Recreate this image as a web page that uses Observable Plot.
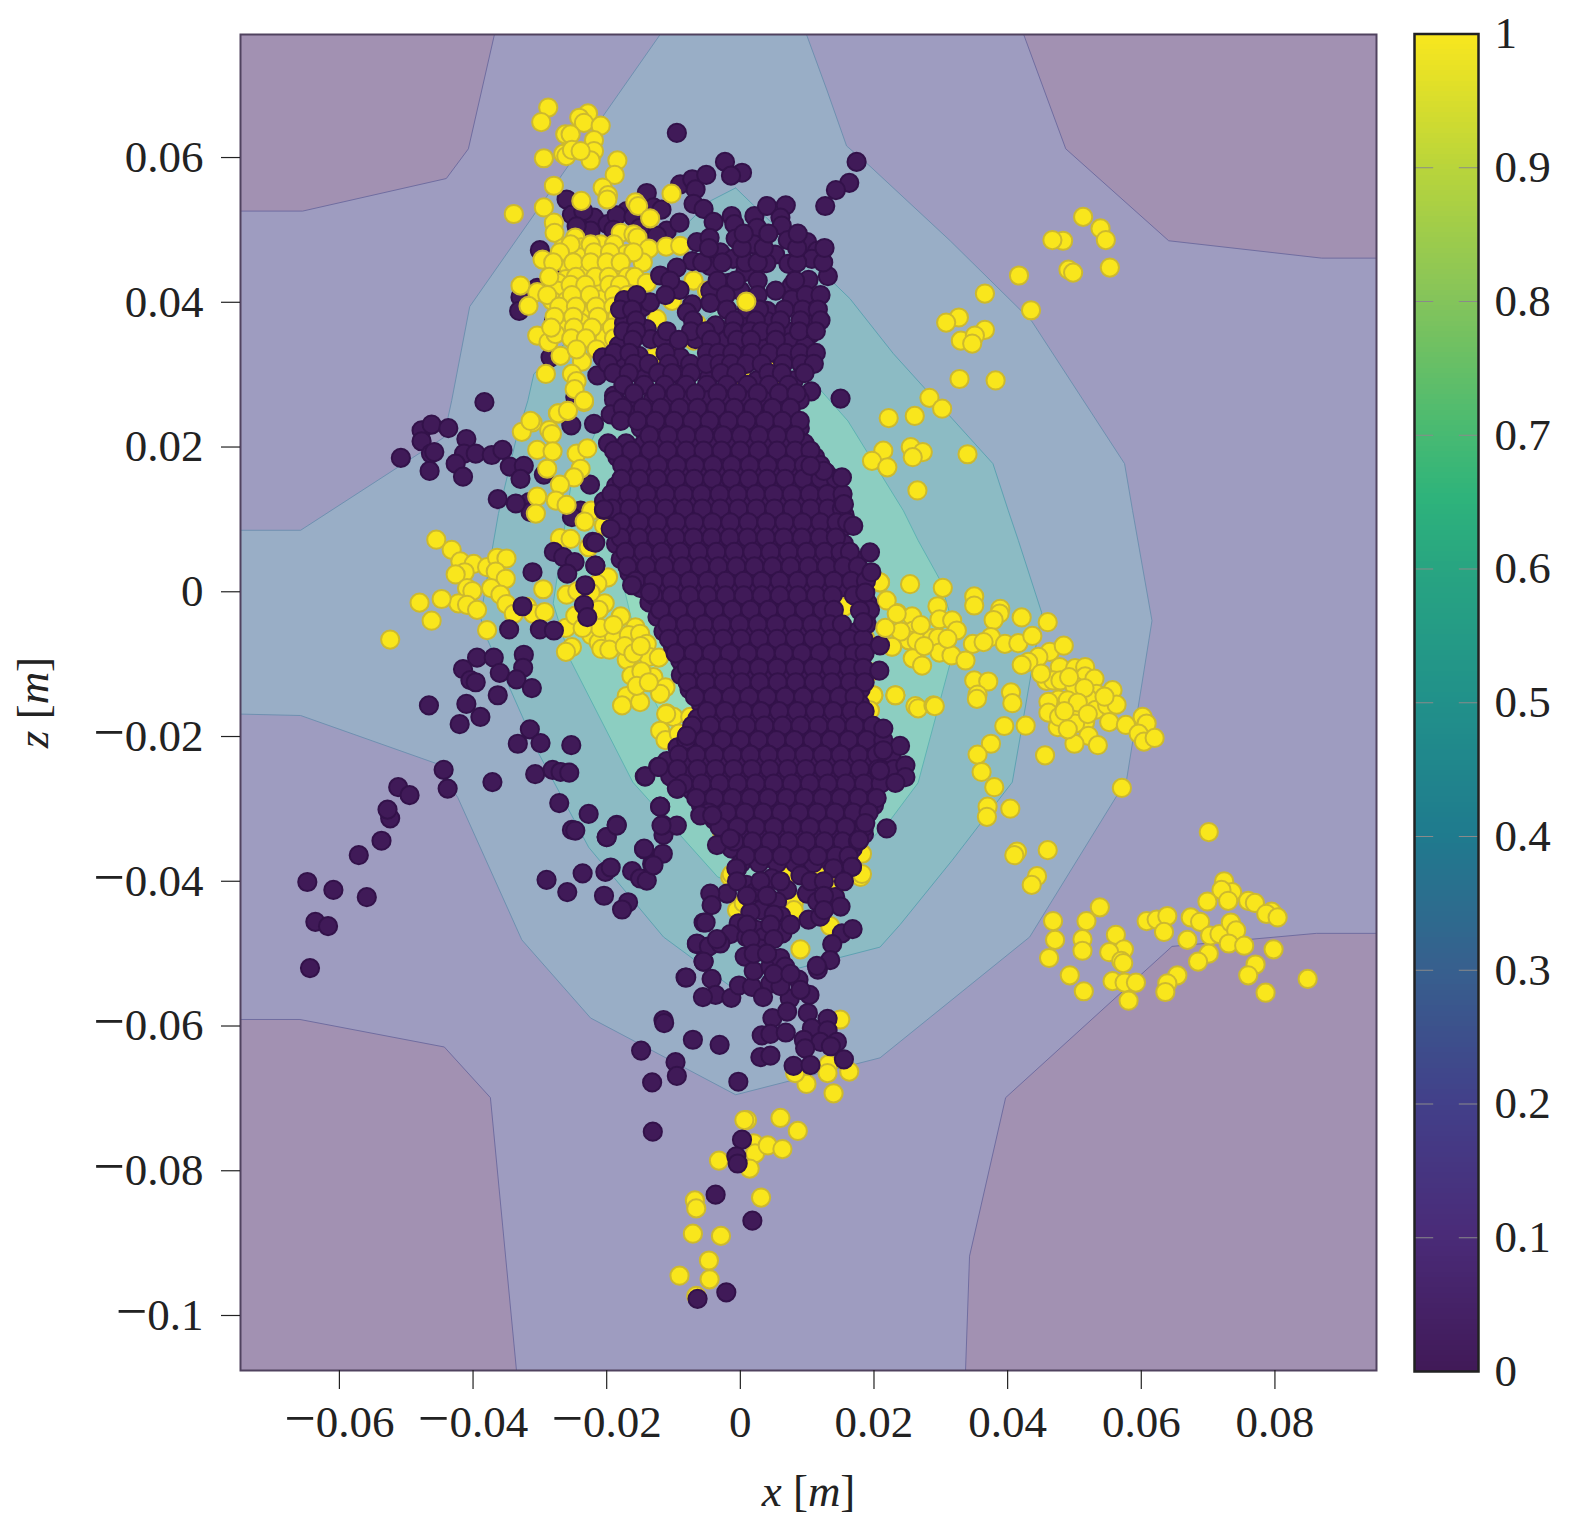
<!DOCTYPE html>
<html><head><meta charset="utf-8">
<script src="https://cdn.jsdelivr.net/npm/d3@7"></script>
<script src="https://cdn.jsdelivr.net/npm/@observablehq/plot@0.6"></script>
<style>html,body{margin:0;padding:0;background:#fff}#c{position:relative;width:1574px;height:1538px;display:flex}svg{overflow:visible;display:block}</style>
</head><body><div id="c"></div>
<script>
// all positions in millimetres, [x, z]
const xTicks=[-0.06,-0.04,-0.02,0,0.02,0.04,0.06,0.08];
const zTicks=[-0.1,-0.08,-0.06,-0.04,-0.02,0,0.02,0.04,0.06];
const cbTicks=[0,0.1,0.2,0.3,0.4,0.5,0.6,0.7,0.8,0.9,1];
const cbStops=[0,0.1,0.2,0.3,0.4,0.5,0.6,0.65,0.7,0.8,0.9,1];
const cbColours=["#411a58","#4a2b78","#42408a","#37608e","#1f7b8e","#21918a","#28a581","#2eb37b","#48ba72","#85c45a","#bad53a","#fae71d"];
const level2=[[-74.8,52.6],[-65.5,52.6],[-44,57.1],[-40.7,61.2],[-36.8,77],[42.4,77],[48.7,61.2],[64.1,48.5],[87,46.1],[95.2,46.1],[95.2,-47.2],[86.2,-47.2],[64.6,-49],[39.7,-69.9],[34.3,-91.8],[33.7,-107.6],[-33.5,-107.6],[-37.4,-69.9],[-44.3,-62.9],[-65.9,-59.1],[-74.8,-59.1],[-74.8,52.6]];
const level3=[[-74.8,8.5],[-65.8,8.5],[-44.4,21.3],[-43.2,26.4],[-40.5,39.4],[-12,77],[9.9,77],[13,69.2],[15.9,61.6],[19.4,58.8],[31.4,48.5],[43.6,37.4],[57.5,17.7],[58.7,11.2],[61.6,-4],[57.8,-26],[43.3,-47.7],[20.9,-64.4],[-0.7,-69.5],[-22.4,-58.9],[-32.7,-48.1],[-42.3,-28.4],[-45.6,-23.7],[-65.8,-17.1],[-74.8,-16.9],[-74.8,8.5]];
const level4=[[-0.7,55.8],[16.4,40.5],[22.9,32.9],[37.8,17.7],[40.1,11.2],[41.6,7.1],[45.1,-2.9],[40.7,-26.3],[31.7,-37.1],[23.9,-46],[20.9,-49.1],[7.5,-52.3],[-1.8,-54.3],[-11.5,-47.7],[-22.7,-35.3],[-30.2,-22.3],[-34.8,-12.7],[-37.8,-6.7],[-38.9,-3.5],[-36.2,10.8],[-33.6,20.9],[-31.8,26.4],[-30.9,30.1],[-4.5,54],[-0.7,55.8]];
const level5=[[-0.7,41.6],[9,31],[16.1,23.6],[24.4,11.2],[26.6,7.1],[29.9,1.6],[32.4,-6.4],[26.6,-26.4],[22.4,-31.6],[16.4,-37.1],[1.5,-41.2],[-3.4,-39.4],[-16.1,-26.3],[-25.4,-9.5],[-28,-1.6],[-25.4,14.4],[-20.9,23.6],[-0.7,41.6]];
const level6=[[0,32],[10,19.8],[14.6,10.8],[16.9,6.1],[19.4,0.2],[17.9,-13.6],[13.5,-26],[4.5,-32.9],[-6,-27.4],[-13.9,-13.2],[-17.9,2.5],[-14.9,15.4],[0,32]];

const darkBack=[[-26,54.2],[-25.2,52.1],[-21.9,51.7],[-14,55.1],[-13,53.1],[-17,52.6],[-19.9,50.8],[-30,47.2],[-27.7,45.3],[-32.9,40.7],[-33.1,38.8],[-27.9,37.4],[-28.4,32.4],[-24.7,26.9],[-30.4,42],[-22.4,49.9],[-9,56.3],[-7.2,57],[-6.7,55.6],[-29.4,16.2],[-31.6,12.4],[-31.4,11],[-23.9,11.2],[-25.2,10.3],[-25.3,23],[-21.9,23.2],[-22.5,14.8],[-11,49.9],[-9.1,51],[-7,53.6],[-5.5,52.9],[-23.5,52.6],[-18.5,52],[-16,51.8],[-11.8,52.8],[-15,50.3],[-12.5,49.2],[-24.5,50.5],[-19,50]];

const yellow=[[51.3,51.8],[53.9,50.2],[54.7,48.6],[48.3,48.5],[46.7,48.6],[49.1,44.5],[49.8,44.1],[55.3,44.8],[41.7,43.7],[36.6,41.2],[43.5,38.9],[32.7,37.9],[30.8,37.2],[36.6,36.2],[33,34.7],[35.1,35.4],[34.7,34.3],[32.8,29.4],[38.2,29.2],[28.3,26.8],[30.2,25.3],[26.1,24.3],[22.2,24],[25.5,20],[27.3,19.3],[25.8,18.6],[34,19],[21.4,19.5],[19.7,18.1],[22,17.2],[26.5,14],
[20.9,1.3],[25.4,1.05],[30.3,0.55],[29.5,-2],[35,-0.65],[35,-1.9],[38.9,-2.35],[38.8,-3],[37.9,-3.9],[42.1,-3.55],[46,-4.2],[23.5,-2.95],[25.7,-3.4],[29.8,-3.8],[31.7,-3.95],[32.4,-5.35],[25.9,-5.35],[25.2,-6.7],[26.4,-6.8],[28.7,-6.4],[29.6,-6.35],[22.7,-7.55],[29.8,-8.4],[31.6,-8.8],[33.7,-9.5],[25.8,-9.2],[27.2,-10.2],[34.8,-7.2],[37.5,-6.25],[36.4,-6.95],[39.6,-7.2],[41.6,-7.1],[43.7,-6.1],[46.3,-8.3],[48.4,-7.45],[44.6,-9],[43.1,-9.7],[42.1,-10.1],[47.8,-10.4],[50.1,-10.55],[51.6,-10.4],[51.6,-11.7],[53,-12],[45.8,-12.3],[46.8,-12.25],[47.9,-12.25],[35,-12.25],[37.1,-12.4],[35.5,-14.2],[35.4,-14.8],[40.5,-13.9],[40.7,-15.4],[23.2,-14.3],[19.9,-14.3],[26.2,-15.8],[26.6,-16.1],[28.9,-15.7],[29.1,-15.8],[55.7,-13.6],[53.3,-14.1],[52,-14.7],[47.6,-14.9],[46.1,-15.2],[46.1,-16.7],[49.8,-16.7],[53.2,-16.3],[54.9,-15.7],[56.3,-15.6],[51.6,-18],[50.1,-18.2],[47.5,-18.7],[47.7,-17.3],[55.2,-18],[57.7,-18.4],[60.2,-17.3],[60.8,-18.2],[59.6,-19.6],[60.4,-20.7],[62,-20.2],[52.1,-19.9],[50,-21],[53.5,-21.2],[39.5,-18.55],[42.7,-18.5],[37.5,-21],[35.5,-22.5],[36.1,-24.9],[38,-27],[45.6,-22.6],[57.1,-27.1],[37,-29.7],[36.9,-31.1],[40.4,-29.97],[41.4,-35.9],[41,-36.4],[46,-35.7],[44.4,-39.3],[43.6,-40.5],
[50,-13],[49,-15],[51.5,-13.3],[50.5,-15.3],[48.5,-16.5],[52,-16.9],[54.5,-14.5],[49,-19],[45,-11.3],[49.2,-11.8],[24,-5.5],[27.5,-7.5],[31,-6.5],[27,-4.6],
[70.1,-33.2],[72.4,-40],[73.6,-41.5],[72,-41.2],[69.9,-42.8],[73,-42.7],[76,-42.7],[77,-43],[79.5,-44.2],[78.7,-44.5],[80.4,-45],[53.8,-43.6],[51.8,-45.5],[46.8,-45.5],[47.1,-48.1],[46.2,-50.6],[51.2,-48],[51.2,-49.6],[56.2,-47.4],[57.4,-49.4],[55.2,-49.8],[57,-51],[57.3,-51.3],[49.3,-53],[51.4,-55.2],[55.7,-53.8],[57.5,-54],[59.2,-54],[58.1,-56.5],[60.8,-45.5],[62.3,-45.3],[63.9,-44.8],[63.4,-47],[66.9,-48.1],[67.4,-45],[68.8,-45.6],[70.3,-47.5],[71.7,-47.3],[73.4,-45.7],[74.2,-46.8],[73.1,-48.6],[75.4,-48.9],[70.1,-50],[68.5,-51.1],[79.8,-49.4],[77.1,-51.5],[76,-53],[78.6,-55.4],[84.9,-53.5],[65.4,-53],[63.9,-54.1],[63.6,-55.3],
[-52.4,-6.6],[-45.5,7.2],[-43.2,5.8],[-41.9,4.2],[-39.9,3.85],[-41.25,2.7],[-42.6,2.4],[-37.9,3.4],[-36.4,4.7],[-35,4.6],[-36.6,2.8],[-35.1,1.8],[-37.3,0.5],[-40.9,0.5],[-40.1,0.1],[-35.9,-0.4],[-35,-1.7],[-42.2,-1.6],[-40.9,-1.8],[-39.4,-2.5],[-44.7,-1],[-48,-1.5],[-46.2,-4],[-37.9,-5.3],[-33.9,-3.05],[-31.9,-2.1],[-31,-3.05],[-29.3,-2.8],[-29.5,0.35],[-26.1,-5],[-25.2,-7.65],[-26.1,-8.3],
[-27.3,24.65],[-25.9,25],[-23.4,26.2],[-31.1,23.4],[-32.7,22.1],[-28.6,22.35],[-28.2,21.8],[-30.4,19.6],[-28.1,19.4],[-28.9,17],[-24.5,19.1],[-22.9,19.8],[-23.9,17],[-24.9,15.8],[-27,14.8],[-30.4,13.15],[-27.6,12.6],[-26,12],[-30.6,10.8],[-22.3,11.2],[-23.3,9.7],[-20.4,9.15],[-27,7.4],[-25.4,7.3],[-22.7,6.15],[-19.8,2],[-21.4,1.1],[-26,-0.4],[-24.4,0.1],[-22.4,-0.1],[-20.3,-1.6],[-21.2,-2.5],[-24.7,-3.3],[-22.9,-3.5],[-17.9,-3.4],[-15.7,-4.9],[-22.3,-6],[-21.2,-7],[-20.8,-7.9],[-18.9,-6.3],[-16.7,-6],[-15,-5.8],[-14,-7.2],[-17,-9.4],[-13.7,-9],[-12.2,-9.1],[-16.3,-11.6],[-13,-11.8],[-11.2,-13.2],[-12,-14.1],[-17,-14.4],[-17.7,-15.7],[-15,-15.25],[-11,-16.8],[-10,-17.3],[-11.1,-16.9],[-12,-19.2],[-11.2,-20.5],[-7.5,-17.3],[-9.2,-19.6],[-8.5,-21],
[-21,-5],[-19.6,-8],[-17.3,-7.5],[-16,-8.5],[-14.9,-7.5],[-14.8,-11],[-15.5,-13],[-13.7,-12.5],[-19,-4.6],[-23.6,-5],
[15.7,-1.4],[15.5,-2.1],[18.4,-5.8],[18.7,-6.5],[20.9,1.3],[21.9,-1.2],[22.7,-7.6],[19.9,-14.3],[23.2,-14.3],[19.4,-11.1],[19.4,-16.4],
[-28.75,66.9],[-29.8,64.9],[-22.8,66.1],[-24.1,65.5],[-23.4,64.8],[-20.9,64.4],[-26.2,63.2],[-25.4,63.2],[-21.9,62.4],[-26.5,60.5],[-26.05,60.2],[-25.2,61.05],[-21.9,60.9],[-22.4,59.6],[-29.4,59.9],[-23.9,60.9],[-18.4,59.6],[-18.8,57.6],[-27.9,56.1],[-20.6,55.85],[-19.8,54.8],[-19.9,54.2],[-23.8,54],[-29.4,53.1],[-33.9,52.2],[-27.9,51],[-27.8,49.6],[-15.7,53.8],[-15.3,53.3],[-13.5,51.6],[-10.3,55],[-17.9,49.6],[-16,49.4],[-15.4,48.95],[-24.7,48.95],[-26.5,47.5],[-23.8,47.6],[-20.9,48],[-18.9,48],[-29.6,45.9],[-13.7,47.4],[-11.1,47.7],[-9,47.8],[-17.1,46.65],[-14.6,45.5],[-23.9,46.2],[-25.7,44.8],[-20.9,44.1],[-18.2,44.2],[-23.4,44],[-26.1,43.2],[-27.3,42.7],[-32.9,42.3],[-30.4,41.4],[-31.7,39.5],[-27.4,41.6],[-21.9,41.6],[-16.9,42.05],[-28.15,40.2],[-26,40.2],[-23.9,40.7],[-20.7,40.4],[-25.8,38.9],[-22.9,38.3],[-19.4,38.3],[-23.9,37.2],[-20.7,36.8],[-26.2,36.3],[-30.4,35.4],[-28.7,34.5],[-20.3,35.05],[-27.65,35.6],[-26.9,32.6],[-23.7,31.8],[-29.1,30.1],[-25.2,30.1],[-24.5,29.1],[-24.8,28],[-23.4,26.4],[-27.25,24.65],[-25.8,25],[-31.4,23.6],
[-22.4,48],[-25.4,48],[-27,46.9],[-21.9,46.9],[-19.5,46.9],[-16,46.9],[-28,45.5],[-25,45.5],[-22.4,45.5],[-20,45.5],[-17.9,45.5],[-28.6,43.5],[-24.6,43.5],[-21.7,43.5],[-19.7,43.5],[-16.9,43.5],[-15.8,43.5],[-25.4,42.4],[-23.2,42.4],[-19.6,42.4],[-18,42.4],[-28.9,41],[-25.2,41],[-22.5,41],[-18.9,41],[-16.9,41],[-27.1,39.4],[-24.6,39.4],[-21.6,39.4],[-19,39.4],[-17.5,39.4],[-27.8,38],[-25,38],[-21.3,38],[-18.4,38],[-28.3,36.5],[-24.9,36.5],[-22.2,36.5],[-19.2,36.5],[-25.3,35],[-23.1,35],[-18.9,35],[-21.5,33.5],[-24.5,33.5],
[-14,42.7],[-7,43],[-3,41.6],[-5,41.6],[-10.2,40.2],[-12.5,37.7],[-6.5,37],[-5,34.7],[-7,34.7],[-13,32.4],[-12,31],[-18.4,31],[-2.5,31.9],[4,31.6],[-0.2,29.4],[5.2,28.7],[1,26.4],[-11,34],[-8.5,28],[1,29],[6,30],
[9,-49.4],[11.7,-39.4],[18,-39.4],[14.2,-40.7],[13.45,-46.2],[14.95,-59.1],[13.2,-65.3],[13.05,-66.5],[16.3,-66.3],[9.9,-68],[13.95,-69.3],[8.2,-66.5],[1,-73],[0.6,-73],[6,-72.7],[8.6,-74.5],[2,-76.2],[2.2,-77.6],[4.1,-76.5],[6.3,-77],[1.4,-79.7],[-3.2,-78.6],[3.1,-83.7],[-6.8,-84.1],[-6.6,-85.2],[-7.1,-88.7],[-2.9,-89],[-4.7,-92.4],[-9.1,-94.5],[-4.6,-95],[-6.6,-97.3],
[18.2,-39],[18.2,-36.2],[16.9,-35.3],[7,-39],[-2.7,-33.4],[-1.5,-39.4],[11.5,-39.2],[-0.5,-44],[0.5,-43],[8,-43],[8,-44],[6.7,-39],[-1.3,-39]];

const darkLoose=[[-64.4,-52],[-63.6,-45.6],[-61.7,-46.2],[-64.8,-40.1],[-60.9,-41.2],[-55.9,-42.2],[-57.1,-36.4],[-53.7,-34.4],[-52.4,-31.3],[-52.8,-30.1],[-51.2,-27],[-49.5,-28.1],[-44.4,-24.6],[-43.8,-27.2],[-37.1,-26.3],[-46.6,-15.7],[-41,-15.5],[-38.9,-17.3],[-42,-18.3],[-36.3,-14.3],[-39.4,-9.1],[-36.9,-9.1],[-41.5,-10.7],[-40.4,-12.2],[-39.6,-12.5],[-36,-11.2],[-32.4,-8.7],[-32.5,-10.5],[-33.5,-12.1],[-31.2,-13.3],[-31.5,-19],[-33.3,-21],[-29.9,-20.9],[-25.3,-21.2],[-30.7,-25.2],[-28.1,-24.6],[-26.9,-24.9],[-25.6,-25],[-27.1,-29.2],[-22.7,-30.7],[-18.5,-32.2],[-20,-33.9],[-25.2,-32.9],[-24.7,-33],[-29,-39.8],[-25.9,-41.5],[-23.6,-38.9],[-20.2,-38.7],[-19.4,-38.1],[-20.4,-42],[-16.8,-42.9],[-17.7,-43.9],[-16.2,-38.6],[-15,-39.6],[-14,-39.9],[-13.2,-37.6],[-14.4,-35.6],[-11.6,-36.2],[-11.5,-33.6],[-11.6,-32.2],[-9.5,-32.3],[-12,-29.7],[-14.3,-25.5],[-12.3,-24.2],[-11,-23.4],[-9.4,-27.2],[-7.9,-19.8],[-6.7,-22.1],[-8,-22.9],[-6.5,-48.7],[-5.5,-51.1],[-8.2,-53.3],[-5.5,-45.7],
[-38.3,26.2],[-50.8,18.5],[-47.7,22.3],[-46.2,23.1],[-43.7,22.6],[-47.7,20.8],[-46.3,19.1],[-45.8,19.3],[-46.5,16.7],[-41,21.1],[-41.35,19.1],[-42.6,17.7],[-39.6,19.1],[-37.2,18.9],[-35.6,19.6],[-41.5,15.9],[-34.5,17.3],[-32.4,17.4],[-32.9,15.6],[-36.3,12.8],[-33.6,12.2],[-20.4,11.3],[-27.9,5.5],[-26.5,4.8],[-24.8,4.1],[-25.9,2.5],[-22.1,6.9],[-21.7,3.6],[-23.2,0.9],[-23.4,-1.8],[-22.9,-3.5],[-31.1,2.7],[-32.6,-2],[-34.6,-5.2],[-30,-5.2],[-27.9,-5.35]];

const darkTop=[[-9.5,63.4],[-2.3,59.4],[0.25,57.9],[-1.4,57.5],[17.4,59.4],[16.3,56.5],[14.3,55.5],[12.7,53.3],[-5.1,57.6],[-4,51.1],[-1.3,51.9],[-0.9,50.8],[2.1,51.9],[4,53.3],[6.8,53.4],[6,51.7],[2.5,50.3],[6.2,50.6],[-6.5,48.3],[-4.6,48.9],[-0.7,48.8],[2,48],[-3,46.9],[-1.1,46],[7.1,48.6],[10,48.3],[11.5,47.1],[5.2,46.6],[3.9,45.4],[7.2,45.3],[10.7,46],[0.75,44.2],[13.1,43.6],[10.2,43.1],[7.7,42.3],[5.3,41.6],[-7.2,45.7],[-9.5,44.8],[-4.5,45],[-12,43.7],[-1.7,42.7],[-9.1,41.7],[-4.5,41.6],[0,41.6],[-17.4,40.3],[-14.7,39.3],[-13.5,40],[-7.2,39.7],[-4.5,39.9],[7.7,40.4],[-8,38.6],[4,38.8],[10.5,37.9],[10.5,35.6],[1,37.9],[-17.4,37.1],[-14,36.3],[-3.7,36.8],[4,37.4],[7,36],[-13.4,34.9],[-11.7,34.9],[-6.7,34.9],[-2.2,34.7],[-18.2,34],[0.4,33.8],[3,33.8],[7.5,34.5],[9.7,34],[-20.6,32.4],[-17.7,32.2],[-15.2,32.6],[-9,32.4],[5.6,32.8],[10.6,32.4],[-21.4,29.9],[-14.7,29.6],[-9,29.9],[-4.7,29.6],[2.5,29.2],[8,29.2],[-18.9,27.1],[-12.5,27.3],[-6,26.9],[-1.5,27.8],[3.5,27.1],[10.6,27.7],[15,26.7],
[-10.5,43],[-3.4,43],[-0.7,43],[2.6,43],[8.2,43],[-5.7,45.5],[-2.7,45.5],[0.8,45.5],[2.6,45.5],[8.5,45.5],[12.4,45.5],[-4.7,47.5],[0.2,47.5],[3.5,47.5],[8.5,47.5],[12.6,47.5],[0.5,49.5],[4.2,49.5],[8.6,49.5],
[-15.5,41],[-11.2,41],[-2.2,41],[2.6,41],[9.8,41],[12,41],[-18,39],[-16.2,39],[-2,39],[1,39],[2.8,39],[6.6,39],[9.3,39],[11.6,39],[-15.6,37.5],[-7.1,37.5],[-0.9,37.5],[2.3,37.5],[6,37.5],[9,37.5],[12,37.5],[-17.5,36],[-15.6,36],[-11,36],[-7.4,36],[-5.2,36],[-1.1,36],[1.5,36],[3.1,36],[5.3,36],[8.8,36],[11.3,36],[-16.1,34.8],[-9.2,34.8],[-4.4,34.8],[-0.5,34.8],[1.6,34.8],[5.3,34.8],[-18.9,33],[-16.6,33],[-11.2,33],[-5,33],[-3.3,33],[-1.2,33],[1.7,33],[4.3,33],[6.8,33],[8.9,33],[11.3,33],[-19.8,31.5],[-15.9,31.5],[-13.7,31.5],[-10.7,31.5],[-7.5,31.5],[-5.1,31.5],[-3.1,31.5],[-1.4,31.5],[0.9,31.5],[3.2,31.5],[6.4,31.5],[9.1,31.5],[11,31.5],[-19,30.2],[-16.7,30.2],[-12.3,30.2],[-10.2,30.2],[-7.4,30.2],[-2.9,30.2],[-0.6,30.2],[4.2,30.2],[6.2,30.2],[9.6,30.2]];

const darkEdge=[[16.9,9.1],[19.4,5.45],[19.6,2.7],[15.2,15.8],[15.5,12.1],[12.5,16.7],[10.5,17.4],[18.7,-0.1],[17.9,-2.6],[18.4,-4.2],[20.9,-7.4],[20.8,-10.9],[21.4,-18.9],[23.9,-21.3],[21.4,-21.9],[20.9,-24.7],[24.7,-24],[24.7,-25.6],[23.2,-26.4],[18.7,-31.95],[17.8,-34.3],[21.9,-32.7],[16.7,-38],[-20.4,11.4],[-19.4,8.7],[-21.7,6.8],[-21.7,3.6],[-16.2,0.9],[-13.5,-0.1],[-14.2,-25.5],[-12.2,-24.2],[-9.5,-27.2],[-8,-19.9],[-12,-29.7],[-11.8,-32.3],[-14.4,-35.5],[-13,-37.8],[-20,-33.9],[-18.5,-32.3],[-6,-30.9],[-4.2,-30.9],[-3.5,-35],[-1.5,-34.1],[-0.5,-38.3]];

const darkBottom=[[-0.6,-38.2],[-2,-41.7],[-4.5,-41.7],[-4.3,-43.3],[-5.2,-45.7],[0.9,-40.5],[2.2,-41.5],[4.7,-39.6],[7,-41.2],[9,-39.2],[9.97,-41.7],[11.5,-42.8],[14.2,-42.2],[13.95,-38.2],[16.7,-38],[10.2,-45.3],[11.95,-44.9],[5.5,-42.8],[3,-44],[1.5,-44.3],[6.1,-44.8],[-0.25,-45.8],[-1.5,-47.3],[2.4,-46.7],[3.5,-47.7],[0.9,-47.7],[6.3,-47.2],[-6.5,-48.6],[-4.7,-49],[-3,-48.6],[3,-49.3],[-5.5,-51.1],[0.65,-50.4],[15.2,-47.2],[16.8,-46.6],[13.75,-48.7],[13.45,-50.9],[11.6,-52.2],[11.45,-51.7],[-8.1,-53.3],[-4.3,-53.5],[-3.7,-55.7],[-5.6,-56],[-1.35,-56.1],[-0.2,-54.4],[1.75,-54.6],[2,-52.4],[4.5,-51.8],[5.97,-50.6],[6.7,-51.8],[4.5,-54.1],[3.4,-56],[8.7,-53.6],[7.4,-56.2],[10.35,-55.7],[10.1,-58.2],[4.8,-58.9],[13.05,-59],[10.7,-60.3],[13.05,-60.6],[14.45,-62.2],[3.2,-61.3],[4.5,-61.1],[6.8,-60.9],[9.5,-61.9],[12,-62.2],[13.55,-62.8],[9.7,-63.1],[15.5,-64.6],[3,-64.3],[4.5,-64.1],[7.97,-65.5],[10.5,-65.4],[-11.5,-59.2],[-11.4,-59.6],[-7.1,-61.9],[-3.1,-62.6],[-14.85,-63.4],[-9.7,-65],[-9.5,-66.9],[-13.2,-67.8],[-0.3,-67.7],[-13.1,-74.6],[0.25,-75.7],[-0.6,-78],[-0.4,-79],[-3.7,-83.3],[1.8,-86.9],[-2.1,-96.8],[-6.4,-97.7],
[-0.5,-40],[3,-40],[6,-40],[10.5,-40],[12.5,-40],[15.5,-40],[1,-42],[4,-42],[12.5,-42],[15,-43.5],[5,-44.6],[12.5,-44],[1,-46],[4.5,-46],[7.5,-46],[-3.5,-48],[1.5,-48],[5,-48],[2,-50],[4,-50],[6,-54.5],[9,-55],[5,-52.8],[7.5,-52.8],[7,-58]];

// dense core, one row per z: [z, x, x, ...]
const coreRows=[
[28.6,-17.5,-14.4,-11.3,-8.1,-5,-2,1.1,4.3,7.2],
[26.5,-18.9,-16,-13.1,-10.4,-7.6,-4.8,-2.2,0.6,3.4,6.1,8.9],
[24.5,-19.4,-16.7,-14,-11.2,-8.6,-6,-3.1,-0.4,2.2,5,7.6],
[22.6,-14.9,-12.1,-9.5,-6.7,-4.1,-1.2,1.4,4.2,6.9,8.9],
[20.5,-19.8,-17.1,-14.4,-11.6,-8.9,-6.2,-3.6,-0.7,2,4.8,7.4,9.6],
[18.6,-18.4,-15.6,-12.9,-10.2,-7.4,-4.8,-2,0.7,3.4,6.2,8.9,11.2],
[16.5,-17.1,-14.3,-11.6,-8.8,-6.1,-3.4,-0.6,2.1,4.8,7.5,10.1,12.8],
[14.6,-18.6,-15.8,-13.1,-10.3,-7.6,-4.9,-2.2,0.5,3.2,5.9,8.6,11.3,13.6],
[12.5,-20.4,-17.6,-14.9,-12.2,-9.4,-6.7,-4,-1.3,1.4,4.1,6.8,9.5,12.2,14.9],
[10.6,-18.4,-15.7,-13,-10.2,-7.5,-4.8,-2.1,0.6,3.3,6,8.7,11.4,13.9,15.6],
[8.5,-17.2,-14.5,-11.8,-9,-6.3,-3.6,-0.9,1.8,4.5,7.2,9.9,12.6,14.9],
[6.6,-18.6,-15.9,-13.1,-10.4,-7.7,-5,-2.3,0.4,3.1,5.8,8.5,11.2,13.7,15.5],
[4.5,-17.9,-15.1,-12.4,-9.7,-7,-4.3,-1.6,1.1,3.8,6.5,9.2,11.9,14.6,17],
[2.6,-16.6,-13.9,-11.2,-8.4,-5.7,-3,-0.3,2.4,5.1,7.8,10.5,13.2,15.8,18.1],
[0.5,-14.9,-12.2,-9.5,-6.8,-4.1,-1.4,1.3,4,6.7,9.4,12.1,14.8,17.4],
[-1.5,-13.6,-10.9,-8.2,-5.5,-2.8,-0.1,2.6,5.3,8,10.7,13.1,19],
[-3.5,-12.4,-9.7,-7,-4.3,-1.6,1.1,3.8,6.5,9.2,11.9,13.9,18.8],
[-5.5,-11.5,-8.8,-6.1,-3.4,-0.7,2,4.7,7.4,10.1,12.8,15.5,17.5],
[-7.5,-10.1,-7.4,-4.7,-2,0.7,3.4,6.1,8.8,11.5,14.2,16.9,19.1],
[-9.5,-9,-6.3,-3.6,-0.9,1.8,4.5,7.2,9.9,12.6,15.3,17.7],
[-11.5,-8.9,-6.2,-3.5,-0.8,1.9,4.6,7.3,10,12.7,15.4,17.5],
[-13.5,-7.6,-4.9,-2.2,0.5,3.2,5.9,8.6,11.3,14,16.7,18],
[-15.5,-5.9,-3.2,-0.5,2.2,4.9,7.6,10.3,13,15.7,17.9],
[-17.5,-6.4,-3.7,-1,1.7,4.4,7.1,9.8,12.5,15.2,17.9],
[-19.5,-5.2,-2.5,0.2,2.9,5.6,8.3,11,13.7,16.4,19.1,21],
[-21.5,-9.4,-6.7,-4,-1.3,1.4,4.1,6.8,9.5,12.2,14.9,17.6,20.3],
[-23.5,-8,-5.3,-2.6,0.1,2.8,5.5,8.2,10.9,13.6,16.3,19,21.5],
[-25.5,-10.5,-7.6,-4.9,-2.2,0.5,3.2,5.9,8.6,11.3,14,16.7,19.4,21.9],
[-27.5,-7.2,-4.4,-1.7,1,3.7,6.4,9.1,11.8,14.5,17.2,19.9],
[-29.5,-5.9,-3.2,-0.5,2.2,4.9,7.6,10.3,13,15.7,18.4,20],
[-31.5,-3.9,-1.2,1.5,4.2,6.9,9.6,12.3,15,17.5],
[-33.5,-2.4,0.3,3,5.7,8.4,11.1,13.8,16.5,18.5],
[-35.5,-1.3,1.4,4.1,6.8,9.5,12.2,14.9,16.8],
[-37.5,0.1,2.8,5.5,8.2,10.9,13.6,15.4]];
const coreInfill=[
[27.4,-15.9,-12.6,-9.7,-6.7,-3.4,-0.5,2.6,5.8,8.4],
[25.4,-17.6,-14.6,-11.9,-9.1,-6.4,-3.6,-0.9,1.9,4.8,7.5],
[23.6,-17.9,-15.4,-12.7,-9.9,-7.2,-4.6,-1.8,0.9,3.7,6.3,8.9],
[21.6,-13.6,-10.8,-8.1,-5.4,-2.6,0.1,2.8,5.5,8.2],
[19.5,-18.9,-16.3,-13.5,-10.9,-8.1,-5.5,-2.8,0,2.7,5.5,8.2,10.5],
[17.5,-17.7,-15,-12.3,-9.5,-6.8,-4.1,-1.3,1.4,4.1,6.9,9.5,12],
[15.6,-17.8,-15.1,-12.4,-9.6,-6.9,-4.2,-1.4,1.3,4,6.7,9.4,12,14.3],
[13.5,-19.3,-16.7,-14,-11.2,-8.5,-5.8,-3.1,-0.4,2.3,5,7.7,10.4,13,15.3],
[11.5,-19.2,-16.6,-13.9,-11.2,-8.4,-5.7,-3,-0.3,2.4,5.1,7.8,10.5,13.1,15.2],
[9.6,-17.9,-15.1,-12.4,-9.6,-6.9,-4.2,-1.5,1.2,3.9,6.6,9.3,12,14.4,16],
[7.5,-17.9,-15.2,-12.5,-9.7,-7,-4.3,-1.6,1.1,3.8,6.5,9.2,11.9,14.3],
[5.5,-17.2,-14.5,-11.8,-9,-6.3,-3.6,-0.9,1.8,4.5,7.2,9.9,12.6,15,16.4],
[3.5,-16.9,-14.1,-11.4,-8.7,-6,-3.3,-0.6,2.1,4.8,7.5,10.2,12.9,15.4,17.6],
[1.5,-15.7,-13,-10.3,-7.6,-4.9,-2.2,0.5,3.2,5.9,8.6,11.3,14,16.6,18.8],
[-0.5,-13,-10.3,-7.6,-4.9,-2.2,0.5,3.2,5.9,8.6,11.3,13.8,17],
[-2.5,-12,-9.3,-6.6,-3.9,-1.2,1.5,4.2,6.9,9.6,12.3,14,19.4],
[-4.5,-10.9,-8.2,-5.5,-2.8,-0.1,2.6,5.3,8,10.7,13.4,15.2,18.9],
[-6.5,-10.7,-8,-5.3,-2.6,0.1,2.8,5.5,8.2,10.9,13.6,16.3,18.4],
[-8.5,-9.7,-7,-4.3,-1.6,1.1,3.8,6.5,9.2,11.9,14.6,17,18.6],
[-10.5,-8,-5.3,-2.6,0.1,2.8,5.5,8.2,10.9,13.6,16.3,18.4],
[-12.5,-7.9,-5.2,-2.5,0.2,2.9,5.6,8.3,11,13.7,16.4,18.6],
[-14.5,-6.8,-4.1,-1.4,1.3,4,6.7,9.4,12.1,14.8,17.1],
[-16.5,-5,-2.3,0.4,3.1,5.8,8.5,11.2,13.9,16.6,18.6],
[-18.5,-7.2,-4.5,-1.8,0.9,3.6,6.3,9,11.7,14.4,17.1,19.8],
[-20.5,-8.1,-5.4,-2.7,0,2.7,5.4,8.1,10.8,13.5,16.2,18.9,21.4],
[-22.5,-9.2,-6.6,-3.9,-1.2,1.5,4.2,6.9,9.6,12.3,15,17.7,20.4,22.6],
[-24.5,-9.4,-6.4,-3.7,-1,1.7,4.4,7.1,9.8,12.5,15.2,17.9,20.6,23],
[-26.5,-8.5,-5.8,-3.1,-0.4,2.3,5,7.7,10.4,13.1,15.8,18.5,21],
[-28.5,-6.6,-3.9,-1.2,1.5,4.2,6.9,9.6,12.3,15,17.7,20.4],
[-30.5,-4.7,-2,0.7,3.4,6.1,8.8,11.5,14.2,16.9,19.2],
[-32.5,-3.1,-0.4,2.3,5,7.7,10.4,13.1,15.8,18.5],
[-34.5,-0.9,1.8,4.5,7.2,9.9,12.6,15.3,17.6],
[-36.5,0.8,3.5,6.2,8.9,11.6,14.3,16.2]];
const yellowFront=[[0.9,40.1],[21.7,-5],[23.4,-3.05]];

const M=a=>a.map(([x,z])=>[x/1000,z/1000]);
const unrow=rows=>rows.flatMap(([z,...xs])=>xs.map(x=>[x,z]));
const yCol="#f9e61c",yEdge="#cdb92e",dCol="#401a58",dEdge="#33124a";
const X=d=>d[0],Y=d=>d[1];
const poly=(a,fill,stroke)=>Plot.line(M(a),{x:X,y:Y,fill,stroke,strokeWidth:1});
const dots=(a,fill,stroke)=>Plot.dot(M(a),{x:X,y:Y,r:9.1,fill,stroke,strokeWidth:2});
const fmt=d=>String(d).replace("-","\u2212");
const FF="'Liberation Serif',serif";
const main=Plot.plot({
  width:1392,height:1538,marginLeft:240,marginRight:16,marginTop:34,marginBottom:168,
  style:{fontFamily:FF,background:"transparent",overflow:"visible"},
  x:{domain:[-0.0748,0.0952]},y:{domain:[-0.1076,0.0770]},
  marks:[
    Plot.frame({fill:"#a291b2"}),
    poly(level2,"#9e9cc0","#706da0"),
    poly(level3,"#99aec6","#6f90b0"),
    poly(level4,"#8cbbc4","#5ea2b2"),
    poly(level5,"#8ccec1","#5fb3b3"),
    poly(level6,"#94dabf","#68c0b4"),
    Plot.frame({stroke:"#50425f",strokeWidth:2}),
    dots(darkBack,dCol,dEdge),
    dots(yellow,yCol,yEdge),
    dots(darkLoose,dCol,dEdge),
    dots(darkTop,dCol,dEdge),
    dots(unrow(coreRows),dCol,dEdge),
    dots(unrow(coreInfill),dCol,dEdge),
    dots(darkEdge,dCol,dEdge),
    dots(darkBottom,dCol,dEdge),
    dots(yellowFront,yCol,yEdge),
    Plot.axisX({ticks:xTicks,tickFormat:fmt,tickSize:19,tickPadding:16,fontSize:45,stroke:"#222",fill:"#222",strokeWidth:1.2,label:"x [m]",labelAnchor:"center",labelArrow:"none",labelOffset:135}),
    Plot.axisY({ticks:zTicks,tickFormat:fmt,tickSize:19,tickPadding:18,fontSize:45,stroke:"#222",fill:"#222",strokeWidth:1.2,label:"z [m]",labelAnchor:"center",labelArrow:"none",labelOffset:224})
  ]
});
const ramp=d3.range(0,1,1/256);
const bar=Plot.plot({
  width:182,height:1538,marginLeft:22,marginRight:96,marginTop:33.5,marginBottom:167,
  style:{fontFamily:FF,background:"transparent",overflow:"visible"},
  x:{domain:[0,1],axis:null},y:{domain:[0,1]},
  color:{type:"linear",domain:cbStops,range:cbColours},
  marks:[
    Plot.rect(ramp,{x1:0,x2:1,y1:d=>d,y2:d=>Math.min(1,d+1/256+0.001),fill:d=>d,shapeRendering:"crispEdges"}),
    Plot.ruleY(cbTicks.slice(1,-1),{x1:0,x2:0.3,stroke:"#8a8a8a",strokeWidth:1}),
    Plot.ruleY(cbTicks.slice(1,-1),{x1:0.7,x2:1,stroke:"#8a8a8a",strokeWidth:1}),
    Plot.frame({stroke:"#222",strokeWidth:2.5}),
    Plot.axisY({anchor:"right",ticks:cbTicks,tickFormat:d=>String(d),tickSize:0,tickPadding:16,fontSize:45,fill:"#222",label:null})
  ]
});
const root=document.getElementById("c");
root.append(main,bar);
// italic variable letters in the axis titles, as in the typeset original
d3.select(main).selectAll("text").filter(function(){return /^[xz] \[m\]$/.test(this.textContent)}).each(function(){
  const s=this.textContent[0];const t=d3.select(this);
  (t.select("tspan").empty()?t:t.select("tspan")).text(null).call(p=>{
    p.append("tspan").attr("font-style","italic").text(s);
    p.append("tspan").text(" [");
    p.append("tspan").attr("font-style","italic").text("m");
    p.append("tspan").text("]");
  });
});
// longer minus sign on negative tick labels, as in the typeset original
d3.select(main).selectAll("text").filter(function(){return this.textContent.startsWith("\u2212")}).each(function(){
  const t=d3.select(this),txt=this.textContent;
  const host=t.select("tspan").empty()?t:t.select("tspan");
  host.text(null);
  host.append("tspan").attr("font-size",56).text("\u2212");
  host.append("tspan").attr("font-size",45).text(txt.slice(1));
});
</script></body></html>
